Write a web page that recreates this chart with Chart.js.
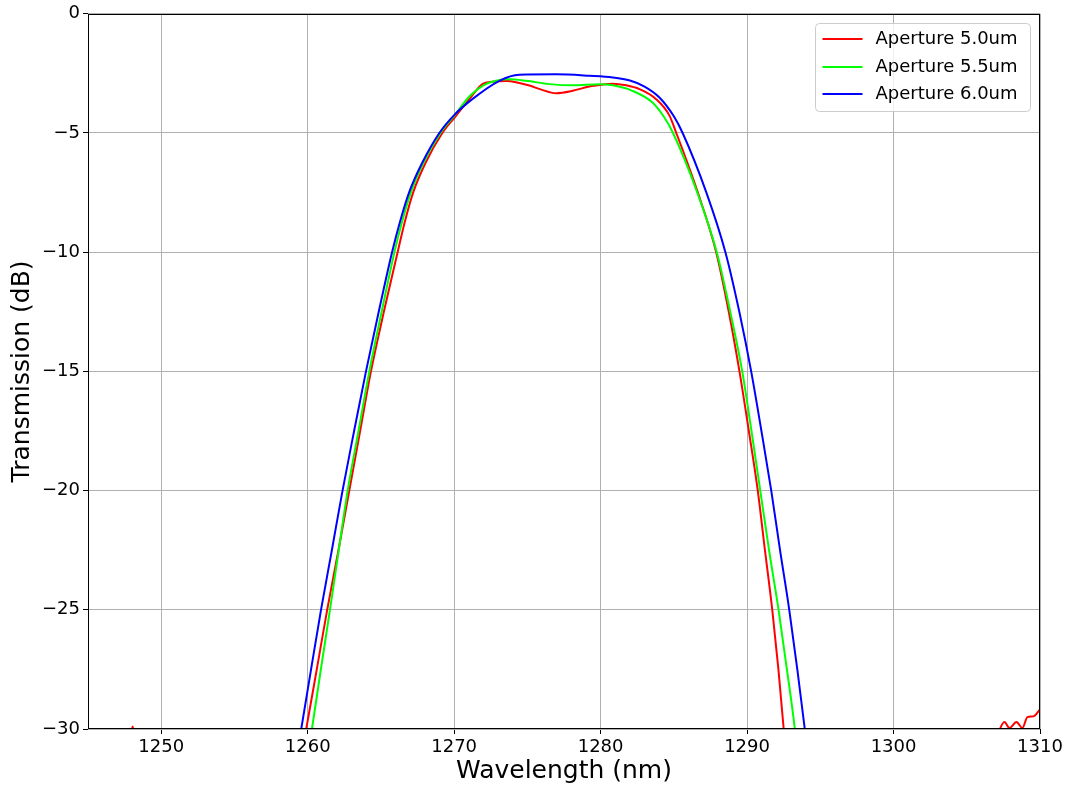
<!DOCTYPE html>
<html>
<head>
<meta charset="utf-8">
<title>Transmission vs wavelength</title>
<script src="https://cdn.jsdelivr.net/npm/chart.js@4.4.1/dist/chart.umd.min.js"></script>
<style>
  html, body { margin: 0; padding: 0; background: #fff; }
  #chart { display: block; }
</style>
</head>
<body>
<canvas id="chart" width="1067" height="789"></canvas>
<script>
const xTicks = [1250, 1260, 1270, 1280, 1290, 1300, 1310];
const yTicks = [-30, -25, -20, -15, -10, -5, 0];

const seriesLabels = ['Aperture 5.0um', 'Aperture 5.5um', 'Aperture 6.0um'];
const seriesColors = ['#ff0000', '#00ff00', '#0000ff'];

// aperture 5.0um (includes the noise floor poking above -30 dB at both ends)
const wl50 = [1247.8, 1248.05, 1248.3, 1259.6, 1259.9, 1260.62, 1261.33, 1262.1, 1262.84, 1263.58,
  1264.32, 1265.2, 1266.14, 1266.62, 1267.2, 1268.05, 1269.19, 1270.1, 1271.2, 1271.93,
  1272.6, 1273.6, 1274.3, 1275.2, 1275.9, 1276.96, 1278.09, 1279.23, 1280.14, 1280.83,
  1281.74, 1282.65, 1283.79, 1284.7, 1285.15, 1286.63, 1287.89, 1288.75, 1289.48, 1290.12,
  1290.73, 1291.22, 1291.72, 1292.14, 1292.5, 1292.62, 1306.9, 1307.57, 1307.91, 1308.39,
  1308.8, 1309.14, 1309.55, 1309.96, 1310.3];
const tr50 = [-30.8, -29.9, -30.8, -31.0, -30.0, -27.5, -25.0, -22.5, -20.0, -17.5,
  -15.0, -12.5, -10.0, -8.75, -7.5, -6.25, -5.0, -4.3, -3.45, -2.95,
  -2.85, -2.82, -2.88, -3.02, -3.17, -3.33, -3.23, -3.05, -2.97, -2.93,
  -3.0, -3.16, -3.58, -4.27, -4.97, -7.48, -10.0, -12.5, -15.0, -17.5,
  -20.0, -22.5, -25.0, -27.5, -30.0, -31.0, -30.4, -29.71, -29.96, -29.71,
  -29.96, -29.5, -29.47, -29.21, -29.0];

// aperture 5.5um
const wl55 = [1260.04, 1260.29, 1260.9, 1261.52, 1262.12, 1262.73, 1263.47, 1264.21, 1265.05, 1265.92,
  1266.43, 1267.04, 1267.9, 1269.06, 1270.0, 1271.1, 1272.0, 1272.86, 1273.77, 1274.91,
  1276.5, 1278.09, 1279.92, 1280.83, 1282.17, 1283.54, 1284.3, 1284.92, 1286.59, 1287.93,
  1288.85, 1289.67, 1290.3, 1290.9, 1291.5, 1292.15, 1292.72, 1293.26, 1293.42];
const tr55 = [-31.0, -30.0, -27.5, -25.0, -22.5, -20.0, -17.5, -15.0, -12.5, -10.0,
  -8.75, -7.5, -6.25, -5.0, -4.28, -3.43, -3.0, -2.81, -2.75, -2.81,
  -2.95, -3.0, -2.95, -3.0, -3.23, -3.72, -4.3, -4.97, -7.48, -10.0,
  -12.5, -15.0, -17.5, -20.0, -22.5, -25.0, -27.5, -30.0, -31.0];

// aperture 6.0um
const wl60 = [1259.29, 1259.56, 1260.23, 1260.91, 1261.65, 1262.38, 1263.17, 1263.98, 1264.85, 1265.76,
  1266.29, 1266.92, 1267.82, 1268.99, 1270.0, 1271.24, 1273.09, 1274.45, 1276.96, 1279.23,
  1280.83, 1282.0, 1283.0, 1284.0, 1285.0, 1285.6, 1287.21, 1288.52, 1289.47, 1290.28,
  1290.98, 1291.65, 1292.25, 1292.88, 1293.43, 1293.94, 1294.12];
const tr60 = [-31.0, -30.0, -27.5, -25.0, -22.5, -20.0, -17.5, -15.0, -12.5, -10.0,
  -8.75, -7.5, -6.25, -5.0, -4.25, -3.58, -2.81, -2.56, -2.54, -2.6,
  -2.67, -2.8, -3.05, -3.5, -4.3, -5.0, -7.48, -10.0, -12.5, -15.0,
  -17.5, -20.0, -22.5, -25.0, -27.5, -30.0, -31.0];

const FONT = '"DejaVu Sans", "Liberation Sans", sans-serif';

function makeSeries(i, wl, tr) {
  return {
    label: seriesLabels[i],
    data: wl.map((x, k) => ({ x, y: tr[k] })),
    borderColor: seriesColors[i],
    backgroundColor: seriesColors[i],
    borderWidth: 2,
    pointRadius: 0,
    fill: false,
    cubicInterpolationMode: 'monotone',
    order: 2 - i // last series drawn on top
  };
}

// black box around the plot area, like matplotlib spines
const frame = {
  id: 'frame',
  afterDatasetsDraw(chart) {
    const { ctx, chartArea } = chart;
    const l = Math.round(chartArea.left) + 0.5;
    const t = Math.round(chartArea.top) + 0.5;
    const r = Math.round(chartArea.right) - 0.5;
    const b = Math.round(chartArea.bottom) - 0.5;
    ctx.save();
    ctx.strokeStyle = '#000';
    ctx.lineWidth = 1;
    ctx.strokeRect(l, t, r - l, b - t);
    ctx.restore();
  }
};

// legend boxed inside the upper right corner
const insetLegend = {
  id: 'insetLegend',
  afterDraw(chart) {
    const { ctx, chartArea } = chart;
    const w = 215, h = 88;
    const x0 = Math.round(chartArea.right - 10 - w) + 0.5;
    const y0 = Math.round(chartArea.top + 9) + 0.5;
    ctx.save();
    ctx.beginPath();
    if (ctx.roundRect) ctx.roundRect(x0, y0, w, h, 4);
    else ctx.rect(x0, y0, w, h);
    ctx.fillStyle = 'rgba(255,255,255,0.8)';
    ctx.fill();
    ctx.strokeStyle = '#cccccc';
    ctx.lineWidth = 1;
    ctx.stroke();

    ctx.font = '18px ' + FONT;
    ctx.textBaseline = 'middle';
    chart.data.datasets.forEach((ds, i) => {
      const y = Math.round(y0 + 15.5 + i * 27.5);
      ctx.beginPath();
      ctx.moveTo(x0 + 7, y);
      ctx.lineTo(x0 + 47, y);
      ctx.strokeStyle = ds.borderColor;
      ctx.lineWidth = 2;
      ctx.stroke();
      ctx.fillStyle = '#000';
      ctx.fillText(ds.label, x0 + 60, y);
    });
    ctx.restore();
  }
};

const minus = (v) => (v < 0 ? '\u2212' + Math.abs(v) : String(v));

new Chart(document.getElementById('chart'), {
  type: 'line',
  data: {
    datasets: [
      makeSeries(0, wl50, tr50),
      makeSeries(1, wl55, tr55),
      makeSeries(2, wl60, tr60)
    ]
  },
  options: {
    responsive: false,
    animation: false,
    layout: { padding: { top: 11, right: 27, left: 0, bottom: 0 } },
    plugins: {
      legend: { display: false },
      tooltip: { enabled: false }
    },
    scales: {
      x: {
        type: 'linear',
        min: 1245,
        max: 1310,
        afterBuildTicks: (s) => { s.ticks = xTicks.map((v) => ({ value: v })); },
        afterFit: (s) => { s.height = 60; },
        ticks: {
          color: '#000',
          padding: 3,
          maxRotation: 0,
          font: { family: FONT, size: 18 },
          callback: (v) => String(v)
        },
        grid: { color: '#b0b0b0', lineWidth: 1, tickColor: '#000', tickLength: 5, tickWidth: 1 },
        border: { display: false },
        title: {
          display: true,
          text: 'Wavelength (nm)',
          color: '#000',
          font: { family: FONT, size: 25 },
          padding: { top: 0, bottom: 3 }
        }
      },
      y: {
        type: 'linear',
        min: -30,
        max: 0,
        afterBuildTicks: (s) => { s.ticks = yTicks.map((v) => ({ value: v })); },
        afterFit: (s) => { s.width = 88; },
        ticks: {
          color: '#000',
          padding: 3,
          font: { family: FONT, size: 18 },
          callback: (v) => minus(v)
        },
        grid: { color: '#b0b0b0', lineWidth: 1, tickColor: '#000', tickLength: 5, tickWidth: 1 },
        border: { display: false },
        title: {
          display: true,
          text: 'Transmission (dB)',
          color: '#000',
          font: { family: FONT, size: 25 },
          padding: { top: 7, bottom: 0 }
        }
      }
    }
  },
  plugins: [frame, insetLegend]
});
</script>
</body>
</html>
